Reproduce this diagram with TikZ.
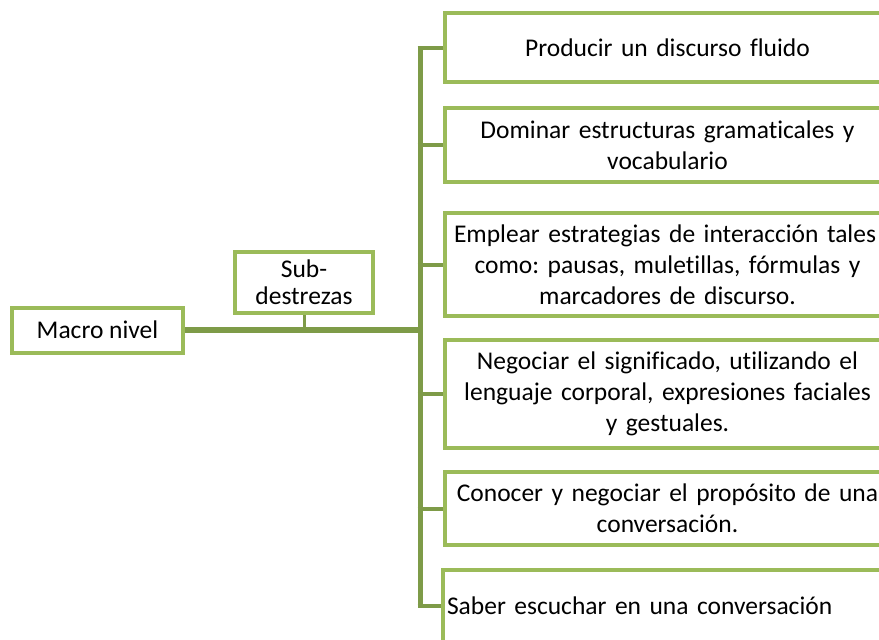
\documentclass[tikz,border=0pt]{standalone}
\usepackage{fontspec}
\setmainfont{Carlito}[Ligatures=NoCommon]
\usetikzlibrary{calc}
\definecolor{boxgreen}{RGB}{155,187,89}
\definecolor{linegreen}{RGB}{126,155,72}
\frenchspacing
\tikzset{
  textbox/.style={draw=boxgreen, line width=4pt, fill=white, align=center,
    font=\fontsize{25.5}{31}\selectfont, inner sep=2pt},
  itembox/.style={textbox, minimum width=445pt, text width=436pt},
  branch/.style={draw=linegreen, line width=4pt},
}

\begin{document}
\begin{tikzpicture}[x=1pt,y=-1pt]
  \useasboundingbox (0,0) rectangle (879,640);
  \clip (0,0) rectangle (879,640);
  \fill[white] (0,0) rectangle (879,640);

  \node[textbox, minimum width=171pt, minimum height=45pt] (macro) at (97.5,330) {Macro nivel};
  \node[textbox, minimum width=138pt, minimum height=61pt, text width=130pt] (sub) at (304,282.5) {Sub-\\[-4pt]destrezas};

  \node[itembox, minimum height=69pt] (b1) at (667.5,47.5) {Producir un discurso fluido};
  \node[itembox, minimum height=74pt] (b2) at (667.5,145) {Dominar estructuras gramaticales y\\vocabulario};
  \node[itembox, minimum height=103pt] (b3) at (667.5,264.5) {\hspace*{-5pt}Emplear estrategias de interacción tales\\como: pausas, muletillas, fórmulas y\\marcadores de discurso.};
  \node[itembox, minimum height=108pt] (b4) at (667.5,394) {Negociar el significado, utilizando el\\lenguaje corporal, expresiones faciales\\y gestuales.};
  \node[itembox, minimum height=73pt] (b5) at (667.5,508.5) {Conocer y negociar el propósito de una\\conversación.};
  \node[itembox, minimum height=72pt, align=left] (b6) at (665,606) {Saber escuchar en una conversación};

  \coordinate (hub) at (420,330);
  \draw[branch, line width=6pt] (macro.east) -- (hub);
  \draw[branch, line width=3pt] (sub.south) -- (sub.south |- macro.east);
  \draw[branch, line width=5pt] (hub |- b1.west) -- (hub |- b6.west);
  \foreach \b in {b1,b2,b3,b4,b5,b6}
    \draw[branch] ([xshift=-2.5pt]hub |- \b.west) -- (\b.west);
\end{tikzpicture}
\end{document}
